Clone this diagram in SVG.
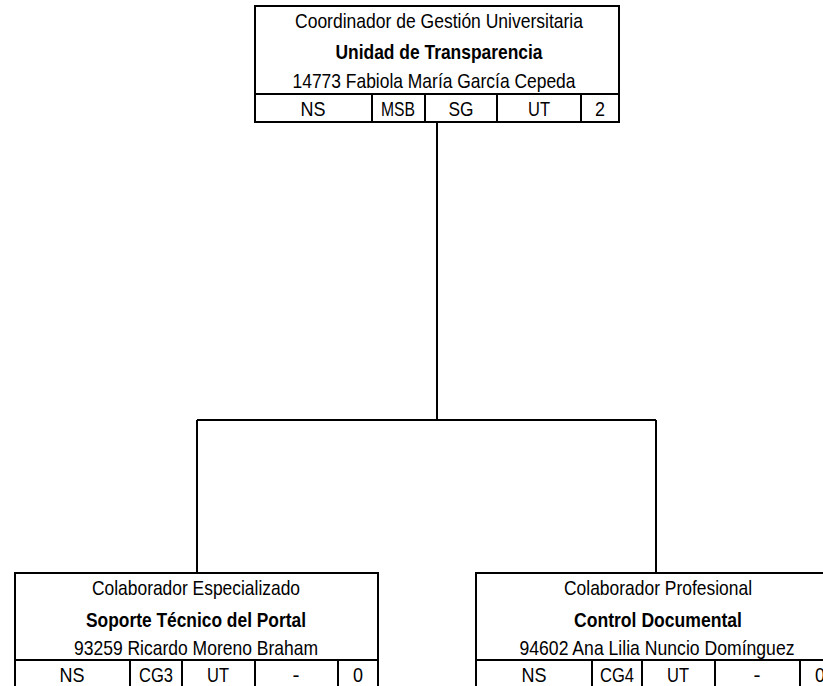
<svg xmlns="http://www.w3.org/2000/svg" width="823" height="686" viewBox="0 0 823 686">
<style>
.box{fill:#fff;stroke:#000;stroke-width:2}
.div{stroke:#000;stroke-width:2}
.conn{fill:none;stroke:#000;stroke-width:2}
text{font-family:"Liberation Sans Narrow","Liberation Sans",Arial,sans-serif;font-size:21px;fill:#000;text-anchor:middle}
.b{font-weight:bold}
</style>
<rect width="823" height="686" fill="#fff"/>
<g id="connectors">
<path class="conn" d="M437 122 V420 M197 420 H656 M197 420 V573 M656 420 V573"/>
</g>
<g id="node-top">
<rect class="box" x="255" y="6" width="364" height="116"/>
<line class="div" x1="255" y1="94" x2="619" y2="94"/>
<line class="div" x1="372" y1="94" x2="372" y2="122"/>
<line class="div" x1="425" y1="94" x2="425" y2="122"/>
<line class="div" x1="497" y1="94" x2="497" y2="122"/>
<line class="div" x1="581" y1="94" x2="581" y2="122"/>
<text x="439" y="28" textLength="288" lengthAdjust="spacingAndGlyphs">Coordinador de Gestión Universitaria</text>
<text class="b" x="439" y="59" textLength="207" lengthAdjust="spacingAndGlyphs">Unidad de Transparencia</text>
<text x="434" y="88" textLength="283" lengthAdjust="spacingAndGlyphs">14773 Fabiola María García Cepeda</text>
<text x="313" y="116" textLength="25" lengthAdjust="spacingAndGlyphs">NS</text>
<text x="398" y="116" textLength="34" lengthAdjust="spacingAndGlyphs">MSB</text>
<text x="461" y="116" textLength="25" lengthAdjust="spacingAndGlyphs">SG</text>
<text x="539" y="116" textLength="22" lengthAdjust="spacingAndGlyphs">UT</text>
<text x="600" y="116" textLength="10" lengthAdjust="spacingAndGlyphs">2</text>
</g>
<g id="node-left">
<rect class="box" x="15" y="573" width="363" height="120"/>
<line class="div" x1="15" y1="660" x2="378" y2="660"/>
<line class="div" x1="130" y1="660" x2="130" y2="690"/>
<line class="div" x1="182" y1="660" x2="182" y2="690"/>
<line class="div" x1="255" y1="660" x2="255" y2="690"/>
<line class="div" x1="338" y1="660" x2="338" y2="690"/>
<text x="196" y="595" textLength="208" lengthAdjust="spacingAndGlyphs">Colaborador Especializado</text>
<text class="b" x="196" y="627" textLength="220" lengthAdjust="spacingAndGlyphs">Soporte Técnico del Portal</text>
<text x="196" y="655" textLength="244" lengthAdjust="spacingAndGlyphs">93259 Ricardo Moreno Braham</text>
<text x="72" y="682" textLength="25" lengthAdjust="spacingAndGlyphs">NS</text>
<text x="156" y="682" textLength="34" lengthAdjust="spacingAndGlyphs">CG3</text>
<text x="218" y="682" textLength="22" lengthAdjust="spacingAndGlyphs">UT</text>
<text x="296" y="682">-</text>
<text x="358" y="682" textLength="10" lengthAdjust="spacingAndGlyphs">0</text>
</g>
<g id="node-right">
<rect class="box" x="476" y="573" width="364" height="120"/>
<line class="div" x1="476" y1="660" x2="840" y2="660"/>
<line class="div" x1="592" y1="660" x2="592" y2="690"/>
<line class="div" x1="642" y1="660" x2="642" y2="690"/>
<line class="div" x1="715" y1="660" x2="715" y2="690"/>
<line class="div" x1="800" y1="660" x2="800" y2="690"/>
<text x="658" y="595" textLength="188" lengthAdjust="spacingAndGlyphs">Colaborador Profesional</text>
<text class="b" x="658" y="627" textLength="168" lengthAdjust="spacingAndGlyphs">Control Documental</text>
<text x="657" y="655" textLength="275" lengthAdjust="spacingAndGlyphs">94602 Ana Lilia Nuncio Domínguez</text>
<text x="534" y="682" textLength="25" lengthAdjust="spacingAndGlyphs">NS</text>
<text x="617" y="682" textLength="34" lengthAdjust="spacingAndGlyphs">CG4</text>
<text x="678" y="682" textLength="22" lengthAdjust="spacingAndGlyphs">UT</text>
<text x="757" y="682">-</text>
<text x="820" y="682" textLength="10" lengthAdjust="spacingAndGlyphs">0</text>
</g>
</svg>
